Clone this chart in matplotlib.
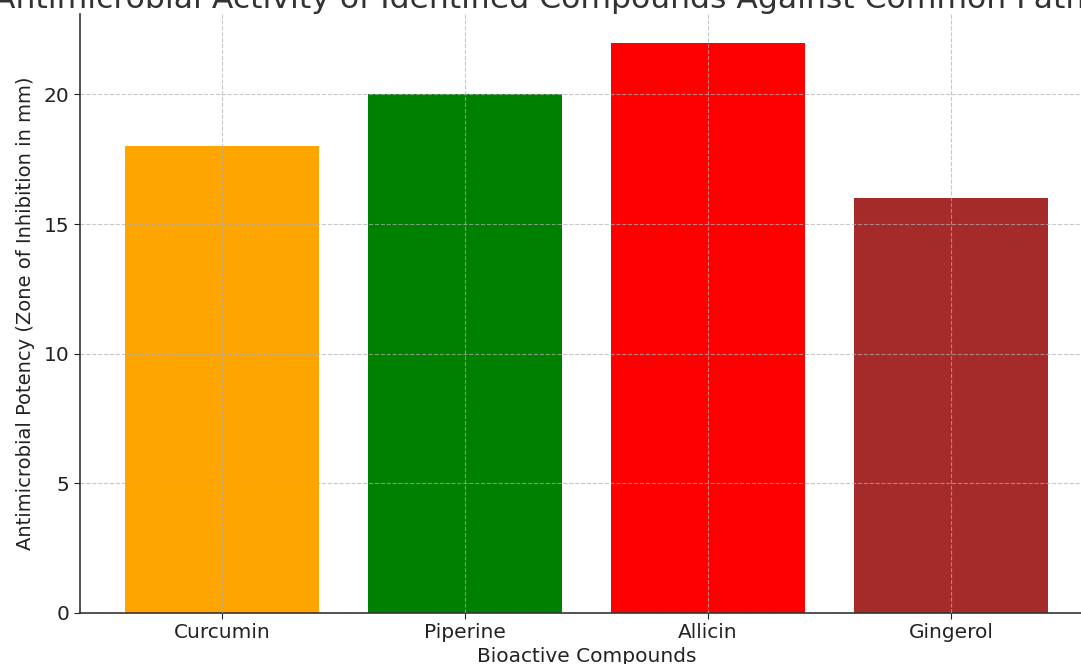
import matplotlib
matplotlib.use("Agg")
import matplotlib.pyplot as plt

# values
compounds = ["Curcumin", "Piperine", "Allicin", "Gingerol"]
potency = [18, 20, 22, 16]
bar_colors = ["orange", "green", "red", "brown"]

fig = plt.figure(figsize=(10.81, 6.64), dpi=100)
# axes runs a little past the right edge, like the cropped reference
ax = fig.add_axes([80 / 1081, 1 - 613 / 664, 1013 / 1081, (613 - 14) / 664])

ax.bar(compounds, potency, color=bar_colors, width=0.8)
ax.set_ylim(0, 23.1)
ax.set_xlim(-0.585, 3.585)

ax.grid(True, linestyle="--", color="#b0b0b0", linewidth=0.8, alpha=0.7)
ax.set_axisbelow(False)
for side in ("top", "right"):
    ax.spines[side].set_visible(False)
for side in ("left", "bottom"):
    ax.spines[side].set_color("#333333")
    ax.spines[side].set_linewidth(1.2)

ax.tick_params(axis="both", labelsize=14.5, colors="#222222", length=4)
ax.set_xlabel("Bioactive Compounds", fontsize=14.5, color="#222222", labelpad=3)
ax.set_ylabel("Antimicrobial Potency (Zone of Inhibition in mm)", fontsize=14,
              color="#222222", labelpad=6)
ax.set_title("Antimicrobial Activity of Identified Compounds Against Common Pathogens",
             fontsize=22.6, color="#333333", pad=2)

fig.savefig("out.png", dpi=100)
